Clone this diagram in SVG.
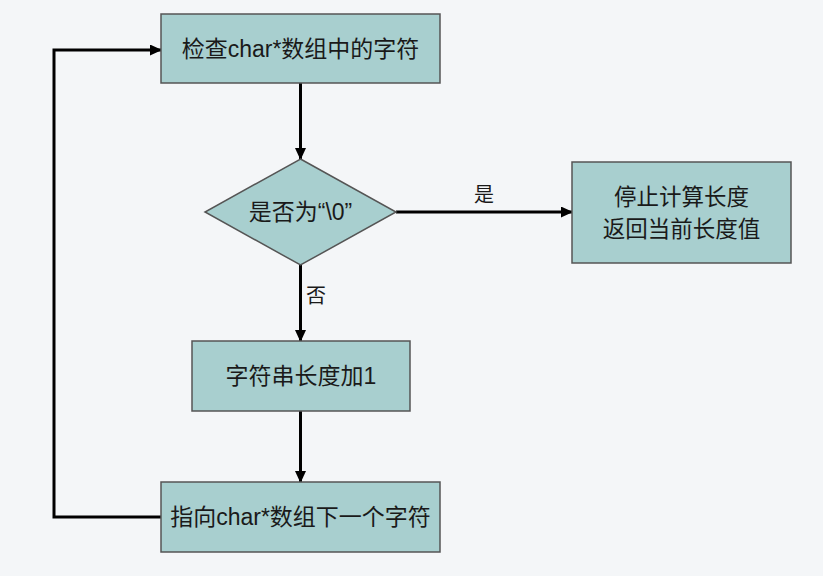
<svg xmlns="http://www.w3.org/2000/svg" width="823" height="576" viewBox="0 0 823 576">
<defs>
<marker id="ah" markerWidth="12" markerHeight="11" refX="11" refY="5.5" orient="auto" markerUnits="userSpaceOnUse">
<path d="M0,0 L12,5.5 L0,11 z" fill="#000"/>
</marker>
<style>
.n{fill:#a8cfcf;stroke:#555;stroke-width:1.5}
.t{font-family:"Liberation Sans","Noto Sans CJK SC",sans-serif;font-size:23px;fill:#1a1a1a;text-anchor:middle;dominant-baseline:central}
.c{fill:none;stroke:#000;stroke-width:3;marker-end:url(#ah)}
</style>
</defs>
<rect width="823" height="576" fill="#f4f6f8"/>
<g id="connectors">
<path class="c" d="M300.5,83 V159"/>
<path class="c" d="M396,212 H572"/>
<path class="c" d="M300.5,265 V341"/>
<path class="c" d="M300.5,411 V482"/>
<path class="c" d="M161,517 H54 V50 H161"/>
<text class="t" x="484" y="195" style="font-size:20px">是</text>
<text class="t" x="316" y="296" style="font-size:20px">否</text>
</g>
<g id="check">
<rect class="n" x="161" y="14" width="279" height="69"/>
<text class="t" x="300.5" y="49">检查char*数组中的字符</text>
</g>
<g id="decision">
<polygon class="n" points="300.5,159 396,212 300.5,265 205,212"/>
<text class="t" x="300.5" y="212">是否为“\0”</text>
</g>
<g id="stop">
<rect class="n" x="572" y="162" width="219" height="101"/>
<text class="t" x="681.5" y="197" style="font-size:22.5px">停止计算长度</text>
<text class="t" x="681.5" y="229" style="font-size:22.5px">返回当前长度值</text>
</g>
<g id="inc">
<rect class="n" x="192" y="341" width="218" height="70"/>
<text class="t" x="301" y="376">字符串长度加1</text>
</g>
<g id="next">
<rect class="n" x="161" y="482" width="279" height="70"/>
<text class="t" x="300.5" y="517">指向char*数组下一个字符</text>
</g>
</svg>
